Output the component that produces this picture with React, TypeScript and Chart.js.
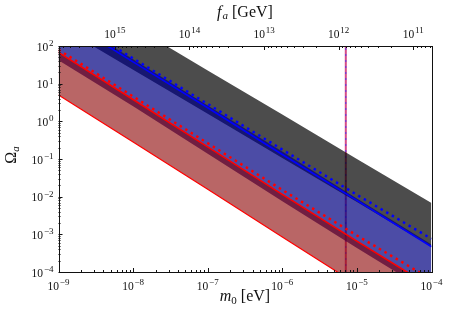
import React, { useEffect, useRef } from 'react';
import { Chart, registerables } from 'chart.js';

Chart.register(...registerables);

// ---- data ----
const MASS = [1e-9, 1e-8, 1e-7, 1e-6, 1e-5, 1e-4]; // m0 [eV]
const GRAY_UPPER = [5012, 339, 22.4, 1.51, 0.1, 0.00676];
const GRAY_LOWER = [347, 23.4, 1.58, 0.107, 0.00724, 0.000468];
const BLUE_UPPER = [759, 44.7, 2.63, 0.158, 0.0089, 0.000537];
const BLUE_LOWER = [41.7, 2.51, 0.138, 0.00759, 0.000437, 0.0000263];
const BLUE_SOLID = [631, 38.0, 2.29, 0.132, 0.00794, 0.000468];
const BLUE_DOTTED = [759, 46.8, 2.88, 0.178, 0.0112, 0.000759];
const RED_SOLID = [67.6, 3.8, 0.209, 0.0115, 0.000661, 0.0000398];
const RED_DOTTED = [79.4, 4.57, 0.263, 0.0151, 0.000933, 0.0000631];
const RED_LOWER = [5.01, 0.282, 0.0158, 0.000851, 0.0000468, 0.00000251];
const VLINE_MASS = 7.1e-6;
const MASS_RANGE = [1e-9, 1e-4];
const OMEGA_RANGE = [1e-4, 1e2];
const FA_RANGE = [5.7e10, 5.7e15]; // f_a [GeV] matching m0 range
const X_LABEL_EXP = [-9, -8, -7, -6, -5, -4];
const Y_LABEL_EXP = [-4, -3, -2, -1, 0, 1, 2];
const TOP_LABEL_EXP = [15, 14, 13, 12, 11];

const SERIF = '"Liberation Serif", "DejaVu Serif", serif';

const pts = (arr: number[]) => MASS.map((m, i) => ({ x: m, y: arr[i] }));

function logTicks(min: number, max: number) {
  const out: { v: number; major: boolean }[] = [];
  const e0 = Math.floor(Math.log10(min));
  const e1 = Math.ceil(Math.log10(max));
  for (let e = e0; e <= e1; e++) {
    for (let k = 1; k <= 9; k++) {
      const v = k * Math.pow(10, e);
      if (v >= min * 0.9999 && v <= max * 1.0001) out.push({ v, major: k === 1 });
    }
  }
  return out;
}

type Part = { t: string; size: number; italic?: boolean; dy?: number; gap?: number };

function drawParts(ctx: CanvasRenderingContext2D, parts: Part[], x: number, y: number, align: 'center' | 'right') {
  let total = 0;
  const widths = parts.map((p) => {
    ctx.font = `${p.italic ? 'italic ' : ''}${p.size}px ${SERIF}`;
    const w = ctx.measureText(p.t).width + (p.gap || 0);
    total += w;
    return w;
  });
  let sx = align === 'center' ? x - total / 2 : x - total;
  ctx.textAlign = 'left';
  ctx.textBaseline = 'alphabetic';
  parts.forEach((p, i) => {
    ctx.font = `${p.italic ? 'italic ' : ''}${p.size}px ${SERIF}`;
    ctx.fillText(p.t, sx + (p.gap || 0), y + (p.dy || 0));
    sx += widths[i];
  });
}

function pow10(exp: number): Part[] {
  const sup = exp < 0 ? '\u2212' + Math.abs(exp) : String(exp);
  return [
    { t: '10', size: 11.5 },
    { t: sup, size: 9, dy: -4.5, gap: 0.8 },
  ];
}

const decorPlugin = {
  id: 'decor',
  afterDraw(chart: any) {
    const { ctx, chartArea: a, scales } = chart;
    const xs = scales.x;
    const xt = scales.x2;
    const ys = scales.y;
    ctx.save();
    ctx.strokeStyle = '#111';
    ctx.lineWidth = 1;
    // inward ticks
    ctx.beginPath();
    logTicks(MASS_RANGE[0], MASS_RANGE[1]).forEach((t) => {
      const px = Math.round(xs.getPixelForValue(t.v)) + 0.5;
      const len = t.major ? 4 : 2;
      ctx.moveTo(px, a.bottom);
      ctx.lineTo(px, a.bottom - len);
    });
    logTicks(FA_RANGE[0], FA_RANGE[1]).forEach((t) => {
      const px = Math.round(xt.getPixelForValue(t.v)) + 0.5;
      const len = t.major ? 4 : 2;
      ctx.moveTo(px, a.top);
      ctx.lineTo(px, a.top + len);
    });
    logTicks(OMEGA_RANGE[0], OMEGA_RANGE[1]).forEach((t) => {
      const py = Math.round(ys.getPixelForValue(t.v)) + 0.5;
      const len = t.major ? 4 : 2;
      ctx.moveTo(a.left, py);
      ctx.lineTo(a.left + len, py);
    });
    ctx.stroke();
    // spines
    ctx.strokeRect(Math.round(a.left) + 0.5, Math.round(a.top) + 0.5, Math.round(a.right - a.left), Math.round(a.bottom - a.top));

    ctx.fillStyle = '#111';
    X_LABEL_EXP.forEach((e) => {
      drawParts(ctx, pow10(e), xs.getPixelForValue(Math.pow(10, e)), a.bottom + 17.5, 'center');
    });
    TOP_LABEL_EXP.forEach((e) => {
      drawParts(ctx, pow10(e), xt.getPixelForValue(Math.pow(10, e)), a.top - 8.5, 'center');
    });
    Y_LABEL_EXP.forEach((e) => {
      drawParts(ctx, pow10(e), a.left - 5, ys.getPixelForValue(Math.pow(10, e)) + 4.5, 'right');
    });
    // axis titles
    const cx = (a.left + a.right) / 2;
    drawParts(ctx, [
      { t: 'm', size: 16, italic: true },
      { t: '0', size: 11, dy: 2.5 },
      { t: ' [eV]', size: 16 },
    ], cx, a.bottom + 29, 'center');
    drawParts(ctx, [
      { t: 'f', size: 16, italic: true },
      { t: 'a', size: 11, italic: true, dy: 2.5, gap: 1 },
      { t: ' [GeV]', size: 16 },
    ], cx, 16.5, 'center');
    ctx.save();
    ctx.translate(16, 155);
    ctx.rotate(-Math.PI / 2);
    drawParts(ctx, [
      { t: '\u03A9', size: 16 },
      { t: 'a', size: 11, italic: true, dy: 2.5 },
    ], 0, 0, 'center');
    ctx.restore();
    ctx.restore();
  },
};

const hidden = { borderWidth: 0, pointRadius: 0, fill: false };

export default function App() {
  const ref = useRef<HTMLCanvasElement | null>(null);
  useEffect(() => {
    document.body.style.margin = '0';
    if (!ref.current) return;
    const chart = new Chart(ref.current, {
      type: 'line',
      data: {
        datasets: [
          // 0,1 vertical marker
          {
            data: [{ x: VLINE_MASS, y: OMEGA_RANGE[0] }, { x: VLINE_MASS, y: OMEGA_RANGE[1] }],
            borderColor: 'rgba(205,45,115,0.85)', borderWidth: 2, pointRadius: 0, fill: false, order: 100,
          },
          {
            data: [{ x: VLINE_MASS, y: OMEGA_RANGE[0] }, { x: VLINE_MASS, y: OMEGA_RANGE[1] }],
            borderColor: 'rgba(50,50,255,0.8)', borderWidth: 1, borderDash: [2, 4], pointRadius: 0, fill: false, order: 99,
          },
          // 2,3 gray band
          { data: pts(GRAY_LOWER), ...hidden, order: 91 },
          { data: pts(GRAY_UPPER), borderWidth: 0, pointRadius: 0, fill: { target: 2, above: 'rgba(0,0,0,0.7)', below: 'rgba(0,0,0,0.7)' }, order: 90 },
          // 4,5 blue band
          { data: pts(BLUE_LOWER), ...hidden, order: 81 },
          { data: pts(BLUE_UPPER), borderWidth: 0, pointRadius: 0, fill: { target: 4, above: 'rgba(0,0,128,0.7)', below: 'rgba(0,0,128,0.7)' }, order: 80 },
          // 6,7 red band
          { data: pts(RED_LOWER), ...hidden, order: 71 },
          { data: pts(RED_SOLID), borderWidth: 0, pointRadius: 0, fill: { target: 6, above: 'rgba(139,0,0,0.6)', below: 'rgba(139,0,0,0.6)' }, order: 70 },
          // lines
          { data: pts(RED_LOWER), borderColor: '#ff0000', borderWidth: 1.2, pointRadius: 0, fill: false, order: 6 },
          { data: pts(RED_SOLID), borderColor: '#ff0000', borderWidth: 1.6, pointRadius: 0, fill: false, order: 5 },
          { data: pts(RED_DOTTED), borderColor: '#ff0000', borderWidth: 2.5, borderDash: [2.5, 4], borderCapStyle: 'butt', pointRadius: 0, fill: false, order: 4 },
          { data: pts(BLUE_SOLID), borderColor: '#0000ff', borderWidth: 1.6, pointRadius: 0, fill: false, order: 3 },
          { data: pts(BLUE_DOTTED), borderColor: '#0000ff', borderWidth: 2.5, borderDash: [2.5, 4], borderCapStyle: 'butt', pointRadius: 0, fill: false, order: 2 },
        ] as any,
      },
      options: {
        responsive: false,
        animation: false,
        events: [],
        layout: { padding: { left: 0, right: 19.5, top: 0, bottom: 0 } },
        plugins: { legend: { display: false }, tooltip: { enabled: false }, filler: { propagate: false } },
        scales: {
          x: {
            type: 'logarithmic', axis: 'x', position: 'bottom', min: MASS_RANGE[0], max: MASS_RANGE[1],
            ticks: { display: false }, grid: { display: false }, border: { display: false },
            afterFit: (s: any) => { s.height = 44; },
          },
          x2: {
            type: 'logarithmic', axis: 'x', position: 'top', min: FA_RANGE[0], max: FA_RANGE[1], reverse: true,
            ticks: { display: false }, grid: { display: false }, border: { display: false },
            afterFit: (s: any) => { s.height = 46; },
          },
          y: {
            type: 'logarithmic', axis: 'y', position: 'left', min: OMEGA_RANGE[0], max: OMEGA_RANGE[1],
            ticks: { display: false }, grid: { display: false }, border: { display: false },
            afterFit: (s: any) => { s.width = 58.5; },
          },
        } as any,
      },
      plugins: [decorPlugin],
    });
    return () => chart.destroy();
  }, []);
  return (
    <div style={{ width: 451, height: 316 }}>
      <canvas ref={ref} width={451} height={316} style={{ display: 'block' }} />
    </div>
  );
}
